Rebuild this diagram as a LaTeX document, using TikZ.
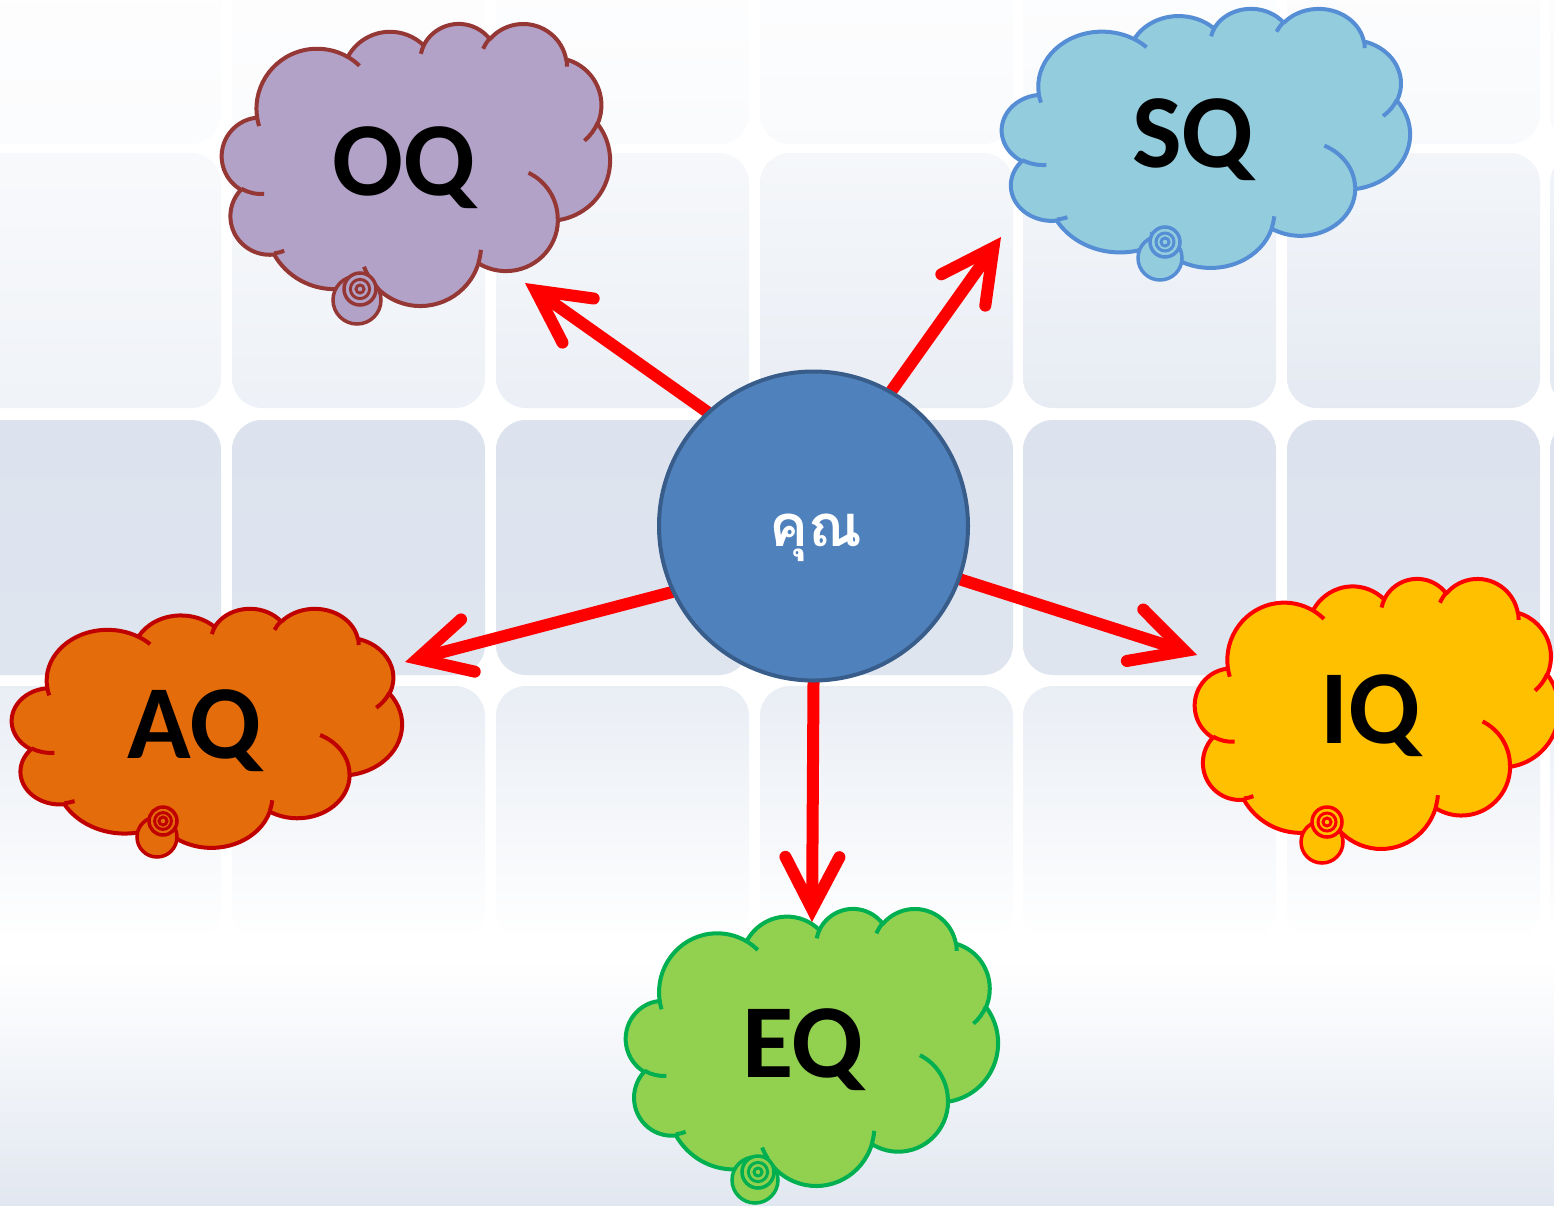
\documentclass[tikz,border=0pt]{standalone}
\usepackage{fontspec}
\newfontfamily\thaifont[Script=Thai]{Loma}
\newfontfamily\qfont{Carlito}
\usetikzlibrary{arrows.meta}

\pgfdeclarelayer{bg}
\pgfdeclarelayer{links}
\pgfsetlayers{bg,links,main}

\definecolor{tilec}{HTML}{DCE3EE}
\definecolor{oqfill}{HTML}{B2A2C7}\definecolor{oqline}{HTML}{953735}
\definecolor{sqfill}{HTML}{93CDDD}\definecolor{sqline}{HTML}{558ED5}
\definecolor{aqfill}{HTML}{E46C0A}\definecolor{aqline}{HTML}{C00000}
\definecolor{iqfill}{HTML}{FFC000}\definecolor{iqline}{HTML}{FF0000}
\definecolor{eqfill}{HTML}{92D050}\definecolor{eqline}{HTML}{00B050}
\definecolor{youfill}{HTML}{4F81BD}\definecolor{youline}{HTML}{385D8A}

\tikzset{
  cloudedge/.style={line width=4pt, line join=round},
  qlabel/.style={font=\qfont\bfseries\fontsize{105}{110}\selectfont, anchor=base, inner sep=0pt},
  link/.style={draw=red, line width=12pt, line cap=round,
    -{Straight Barb[length=52pt, width=54pt, line cap=round, line join=miter]}},
}

% Thought cloud in a 432 x 432 design box, placed at (#1,#2) with size #3 x #4
\newcommand\thoughtcloud[6]{%
  \begin{scope}[shift={(#1,#2)}]
    \begin{scope}[y=1pt, xscale=#3/432, yscale=-#4/432]
      \filldraw[fill=#5, draw=#6, cloudedge] (39.00,143.70)
        arc[x radius=67.53pt, y radius=91.90pt, start angle=172.25, end angle=300.34]
        arc[x radius=53.33pt, y radius=72.67pt, start angle=-152.02, end angle=-45.45]
        arc[x radius=43.65pt, y radius=59.45pt, start angle=-153.48, end angle=-37.33]
        arc[x radius=48.57pt, y radius=65.95pt, start angle=-139.71, end angle=-10.21]
        arc[x radius=53.33pt, y radius=72.73pt, start angle=-74.77, end angle=23.21]
        arc[x radius=67.75pt, y radius=92.20pt, start angle=-37.53, end angle=81.86]
        arc[x radius=57.85pt, y radius=78.67pt, start angle=0.46, end angle=121.98]
        arc[x radius=67.52pt, y radius=92.15pt, start angle=16.85, end angle=146.23]
        arc[x radius=77.20pt, y radius=105.43pt, start angle=58.98, end angle=150.21]
        arc[x radius=43.60pt, y radius=59.18pt, start angle=83.31, end angle=223.12]
        arc[x radius=43.45pt, y radius=59.45pt, start angle=120.36, end angle=264.11]
        -- cycle;
      \draw[draw=#6, cloudedge]
        (46.93,261.77) arc[x radius=43.45pt, y radius=59.45pt, start angle=85.55, end angle=120.36]
        (69.28,348.99) arc[x radius=43.60pt, y radius=59.18pt, start angle=68.24, end angle=83.31]
        (164.78,390.90) arc[x radius=67.52pt, y radius=92.15pt, start angle=146.23, end angle=158.47]
        (288.27,347.51) arc[x radius=67.52pt, y radius=92.15pt, start angle=4.74, end angle=16.85]
        (341.29,229.54) arc[x radius=57.85pt, y radius=78.67pt, start angle=-64.03, end angle=0.46]
        (417.98,153.54) arc[x radius=53.33pt, y radius=72.73pt, start angle=23.21, end angle=49.64]
        (383.24,54.26) arc[x radius=48.57pt, y radius=65.95pt, start angle=-10.21, end angle=0.82]
        (290.78,39.52) arc[x radius=48.57pt, y radius=65.95pt, start angle=-156.28, end angle=-139.71]
        (221.41,47.20) arc[x radius=43.65pt, y radius=59.45pt, start angle=-167.73, end angle=-153.48]
        (140.00,51.92) arc[x radius=67.53pt, y radius=91.90pt, start angle=-59.66, end angle=-45.73]
        (41.27,157.89) arc[x radius=67.53pt, y radius=91.90pt, start angle=163.19, end angle=172.25];
    \end{scope}
  \end{scope}}

% Trailing thought bubbles: big circle, then nested rings
\newcommand\cloudbubbles[8]{%
  \filldraw[fill=#7, draw=#8, line width=3.5pt] (#1,#2) circle[radius=#3pt];
  \filldraw[fill=#7, draw=#8, line width=3.5pt] (#4,#5) circle[radius=#6pt];
  \filldraw[fill=#7, draw=#8, line width=3pt] (#4,#5) circle[radius=#6pt*0.6];
  \draw[draw=#8, line width=3pt] (#4,#5) circle[radius=4pt];}

\begin{document}
\begin{tikzpicture}[x=1pt, y=-1pt]
\useasboundingbox (0,0) rectangle (1554,1205);

\begin{pgfonlayer}{bg}
  % backdrop and tile grid
  \fill[white] (0,0) rectangle (1554,1205);
  \foreach \r/\ty/\at/\ab in {0/-111/0/22, 1/153/38/80, 2/420/100/92, 3/686/62/0} {
    \foreach \tx in {-32,232,496,760,1023,1287,1550} {
      \pgfmathtruncatemacro\ta{\r<2 ? \at*(0.55+0.45*(\tx+32)/1582) : \at}
      \pgfmathtruncatemacro\tb{\r<2 ? \ab*(0.55+0.45*(\tx+32)/1582) : \ab}
      \shade[rounded corners=30pt, top color=tilec!\ta!white, bottom color=tilec!\tb!white]
        (\tx,\ty) rectangle ++(253,255);
    }
  }
  \shade[top color=white, bottom color=tilec!85!white] (0,960) rectangle (1554,1206);

  % thought clouds
  \thoughtcloud{222}{23}{388}{282}{oqfill}{oqline}
  \cloudbubbles{357}{300}{24}{360}{289}{16}{oqfill}{oqline}
  \thoughtcloud{1002}{8}{408}{259}{sqfill}{sqline}
  \cloudbubbles{1160}{258}{22}{1165}{242}{15}{sqfill}{sqline}
  \thoughtcloud{12}{608}{390}{239}{aqfill}{aqline}
  \cloudbubbles{157}{837}{20}{163}{821}{14}{aqfill}{aqline}
  \thoughtcloud{1195}{578}{364}{270}{iqfill}{iqline}
  \cloudbubbles{1322}{842}{21}{1327}{822}{15}{iqfill}{iqline}
  \thoughtcloud{626}{908}{372}{277}{eqfill}{eqline}
  \cloudbubbles{755}{1180}{23}{758}{1172}{16}{eqfill}{eqline}
\end{pgfonlayer}

% labels
\node[qlabel] (oq) at (404.5,195) {OQ};
\node[qlabel] (sq) at (1193,167) {SQ};
\node[qlabel] (aq) at (194.5,758) {AQ};
\node[qlabel] (iq) at (1370,743) {IQ};
\node[qlabel] (eq) at (803,1077) {EQ};

% centre
\node[circle, draw=youline, fill=youfill, line width=4pt, minimum size=309pt, inner sep=0pt]
  (you) at (813.5,526) {};
\node[anchor=base, inner sep=0pt, text=white, font=\thaifont\bfseries\fontsize{58}{64}\selectfont]
  (youtext) at (815.5,546) {คุณ};

% arrow tips just outside each cloud
\coordinate (oqtip) at (525,283);
\coordinate (sqtip) at (1001,237);
\coordinate (aqtip) at (405,662);
\coordinate (iqtip) at (1197,655);
\coordinate (eqtip) at (812,922);

\begin{pgfonlayer}{links}
  \draw[link] (you.133.5) -- (oqtip);
  \draw[link] (you.60.2) -- (sqtip);
  \draw[link] (you.205.1) -- (aqtip);
  \draw[link] (you.340.3) -- (iqtip);
  \draw[link] (you.270) -- (eqtip);
\end{pgfonlayer}
\end{tikzpicture}
\end{document}
